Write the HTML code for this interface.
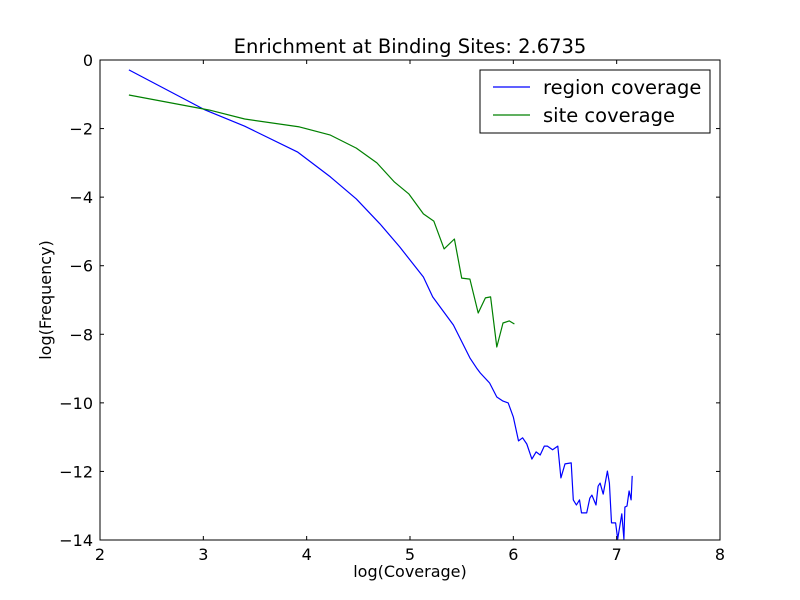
<!DOCTYPE html>
<html><head><meta charset="utf-8"><style>
body{margin:0;background:#fff;}
svg{display:block;font-family:"DejaVu Sans","Liberation Sans",sans-serif;}
</style></head><body>
<svg id="chart" width="800" height="600">
<rect x="0" y="0" width="800" height="600" fill="#fff"/>
<g id="plot"></g>
</svg>
<script>
const xTicks=[2,3,4,5,6,7,8];
const yTicks=[0,-2,-4,-6,-8,-10,-12,-14];
const regionX=[2.28,3.02,3.40,3.91,4.23,4.48,4.71,4.90,5.13,5.22,5.42,5.58,5.65,5.68,5.77,5.84,5.90,5.95,6.00,6.05,6.09,6.13,6.18,6.22,6.26,6.30,6.33,6.38,6.43,6.46,6.50,6.56,6.58,6.61,6.64,6.66,6.71,6.74,6.76,6.80,6.82,6.84,6.87,6.91,6.93,6.95,6.99,7.01,7.05,7.07,7.08,7.10,7.12,7.14,7.15];
const regionY=[-0.29,-1.46,-1.93,-2.68,-3.41,-4.05,-4.78,-5.45,-6.33,-6.91,-7.73,-8.69,-9.01,-9.13,-9.42,-9.83,-9.95,-10.00,-10.41,-11.11,-11.02,-11.20,-11.64,-11.43,-11.52,-11.26,-11.26,-11.37,-11.26,-12.19,-11.78,-11.75,-12.83,-12.98,-12.83,-13.21,-13.21,-12.78,-12.69,-12.98,-12.43,-12.34,-12.66,-11.99,-12.34,-13.50,-13.50,-13.97,-13.24,-13.97,-13.04,-13.01,-12.57,-12.83,-12.13];
const siteX=[2.28,3.06,3.40,3.93,4.23,4.48,4.68,4.85,4.99,5.13,5.23,5.33,5.43,5.50,5.58,5.66,5.73,5.78,5.84,5.90,5.96,6.01];
const siteY=[-1.02,-1.46,-1.72,-1.95,-2.19,-2.57,-3.00,-3.56,-3.91,-4.49,-4.70,-5.51,-5.22,-6.36,-6.39,-7.38,-6.94,-6.91,-8.37,-7.67,-7.61,-7.70];

const L=100,R=720,T=60,B=540,x0=2,x1=8,y0=-14,y1=0;
const sx=v=>L+(v-x0)/(x1-x0)*(R-L);
const sy=v=>B-(v-y0)/(y1-y0)*(B-T);
const NS="http://www.w3.org/2000/svg";
const g=document.getElementById('plot');
function mk(tag,attrs,parent){const e=document.createElementNS(NS,tag);for(const k in attrs)e.setAttribute(k,attrs[k]);(parent||g).appendChild(e);return e;}

function series(xs,ys,color,name){
  const d=xs.map((x,i)=>(i?'L':'M')+sx(x).toFixed(1)+','+sy(ys[i]).toFixed(1)).join('');
  const p=mk('path',{d:d,fill:'none',stroke:color,'stroke-width':1.2,'stroke-linejoin':'round'});
  
  
}
series(regionX,regionY,'#0000ff','region-coverage-line');
series(siteX,siteY,'#008000','site-coverage-line');

const frame=mk('rect',{x:L,y:T,width:R-L,height:B-T,fill:'none',stroke:'#000','stroke-width':1});



xTicks.forEach(v=>{
  const x=sx(v);
  mk('line',{x1:x,y1:B,x2:x,y2:B-4,stroke:'#000'});
  mk('line',{x1:x,y1:T,x2:x,y2:T+4,stroke:'#000'});
  const t=mk('text',{x:x,y:B+20,'text-anchor':'middle','font-size':16});
  t.textContent=v;
  
  
});
yTicks.forEach(v=>{
  const y=sy(v);
  mk('line',{x1:L,y1:y,x2:L+4,y2:y,stroke:'#000'});
  mk('line',{x1:R,y1:y,x2:R-4,y2:y,stroke:'#000'});
  const t=mk('text',{x:L-7,y:y+6,'text-anchor':'end','font-size':16});
  t.textContent=v<0?'\u2212'+(-v):v;
  
  
});

const title=mk('text',{x:410,y:53,'text-anchor':'middle','font-size':19.5});
title.textContent='Enrichment at Binding Sites: 2.6735';



const xl=mk('text',{x:410,y:577,'text-anchor':'middle','font-size':16});
xl.textContent='log(Coverage)';



const yl=mk('text',{x:0,y:0,'text-anchor':'middle','font-size':16,transform:'translate(51,300) rotate(-90)'});
yl.textContent='log(Frequency)';



const lg=mk('g',{});


mk('rect',{x:480,y:70,width:230,height:63,fill:'#fff',stroke:'#000','stroke-width':1},lg);
[['region coverage','#0000ff',87],['site coverage','#008000',115]].forEach(([lab,c,y])=>{
  const e=mk('g',{},lg);
  
  
  mk('line',{x1:493,y1:y,x2:530,y2:y,stroke:c,'stroke-width':1.2},e);
  const t=mk('text',{x:543,y:y+7,'font-size':19.5},e);
  t.textContent=lab;
});
</script>
</body></html>
